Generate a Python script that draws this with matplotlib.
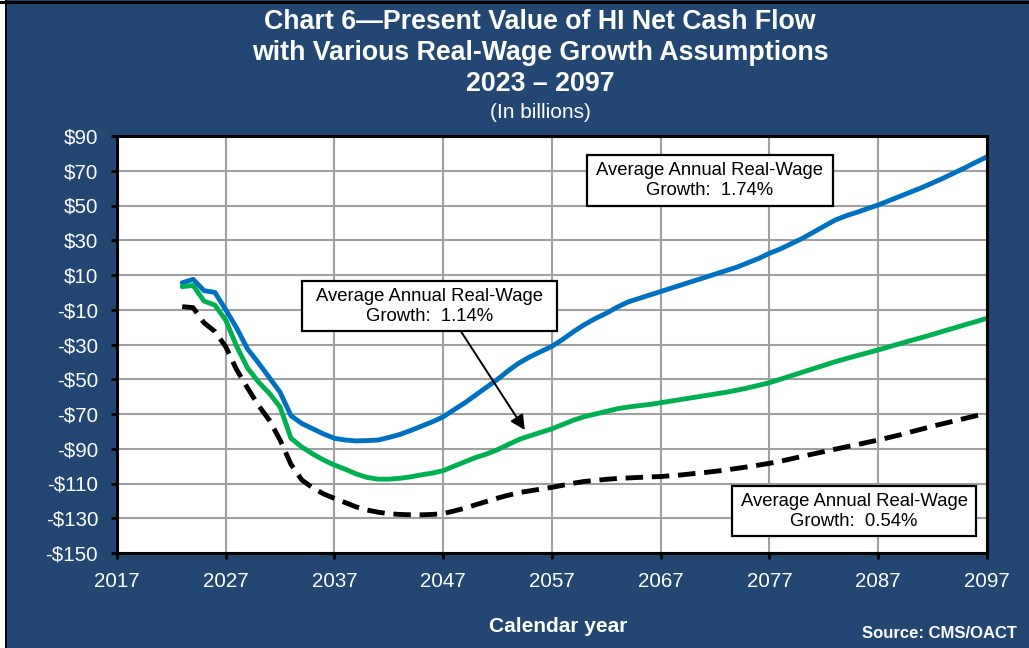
import matplotlib
matplotlib.use("Agg")
import matplotlib.pyplot as plt
from matplotlib.patches import Rectangle

plt.rcParams['font.family'] = ['Liberation Sans', 'DejaVu Sans']

# Calendar years of the projection
years = list(range(2023, 2098))

# Present value of HI net cash flow (billions), average real-wage growth 1.74%
high_wage = [5.5, 7.5, 1, 0, -10, -20.5, -32.5, -40.5, -49, -57.5,
             -71, -75.5, -78.5, -81.5, -84, -85, -85.5, -85.3, -85, -83.5,
             -81.8, -79.5, -77, -74.5, -71.6, -67.5, -63.5, -59, -54.5, -50,
             -45, -40.5, -37, -34, -31, -27, -22.5, -18.5, -15, -12,
             -8.5, -5.5, -3.5, -1.5, 0.5, 2.5, 4.5, 6.5, 8.5, 10.5,
             12.5, 14.5, 17, 19.5, 22.5, 25, 28, 31, 34.5, 38,
             41.5, 44, 46, 48.2, 50.3, 52.8, 55.3, 57.8, 60.3, 63,
             65.8, 68.8, 71.8, 75, 78]

# Average real-wage growth 1.14%
mid_wage = [3.3, 4, -5, -7.3, -16, -31, -43.5, -51.5, -58, -66,
            -84, -89, -93, -96.5, -99.4, -101.8, -104.5, -106.5, -107.5, -107.5,
            -107, -106.2, -105, -104, -102.6, -100, -97.5, -95, -93, -90.5,
            -87.5, -84.6, -82.5, -80.5, -78.5, -76, -73.5, -71.5, -70, -68.5,
            -67, -66, -65.2, -64.5, -63.5, -62.5, -61.5, -60.5, -59.5, -58.5,
            -57.5, -56.3, -55, -53.5, -52, -50, -48, -46, -44, -42,
            -40, -38.2, -36.5, -34.8, -33.1, -31.3, -29.5, -27.7, -26, -24.2,
            -22.3, -20.5, -18.6, -16.8, -14.9]

# Average real-wage growth 0.54%
low_wage = [-8.2, -8.8, -17.5, -22.5, -31.3, -44.5, -55, -65, -73.5, -85,
            -99, -108, -112.5, -116, -118.6, -121, -123.5, -125.3, -126.5, -127.4,
            -127.8, -128, -128, -127.8, -127.3, -125.8, -124.2, -122.2, -120.3, -118.4,
            -116.7, -115.2, -114.2, -113.2, -112.2, -111, -109.8, -108.8, -108.2, -107.6,
            -107.1, -106.8, -106.5, -106.2, -106, -105.5, -105, -104.3, -103.7, -103,
            -102.2, -101.3, -100.4, -99.4, -98.4, -97.2, -95.8, -94.4, -93, -91.7,
            -90.3, -89, -87.7, -86.3, -85, -83.5, -82, -80.3, -78.7, -77,
            -75.5, -74, -72.5, -71, -69.6]

x_ticks = list(range(2017, 2098, 10))
y_ticks = list(range(-150, 91, 20))
y_tick_labels = [f"${v}" if v >= 0 else f"-${-v}" for v in y_ticks]

box_labels = ["Average Annual Real-Wage\nGrowth:  1.74%",
              "Average Annual Real-Wage\nGrowth:  1.14%",
              "Average Annual Real-Wage\nGrowth:  0.54%"]

BG = "#214772"
W, H = 1029, 648

fig = plt.figure(figsize=(W / 100, H / 100), dpi=100, facecolor=BG)

# thin frame strips along the left and top edges
fig.patches.append(Rectangle((0, 0), 5 / W, 1, transform=fig.transFigure,
                             facecolor="white", edgecolor="none", zorder=0))
fig.patches.append(Rectangle((5 / W, 0), 2 / W, 1, transform=fig.transFigure,
                             facecolor="black", edgecolor="none", zorder=0))
fig.patches.append(Rectangle((0, 1 - 3.5 / H), 1, 2 / H, transform=fig.transFigure,
                             facecolor="black", edgecolor="none", zorder=0))

ax = fig.add_axes([117 / W, 1 - 553 / H, 870 / W, 417 / H])
ax.set_facecolor("white")

ax.plot(years, high_wage, color="#0070C0", lw=3.5, solid_joinstyle="round",
        solid_capstyle="round", zorder=3)
ax.plot(years, mid_wage, color="#00B050", lw=3.5, solid_joinstyle="round",
        solid_capstyle="round", zorder=3)
ax.plot(years, low_wage, color="black", lw=3.5, dashes=(3.6, 1.8), zorder=3)

ax.set_xlim(2017, 2097)
ax.set_ylim(-150, 90)
ax.set_xticks(x_ticks)
ax.set_yticks(y_ticks)
ax.set_yticklabels(y_tick_labels)
ax.grid(True, color="#A0A0A0", lw=1.5, zorder=1)
ax.set_axisbelow(True)

for s in ax.spines.values():
    s.set_color("black")
    s.set_linewidth(2.2)
    s.set_zorder(4)

ax.tick_params(axis="both", direction="out", length=4.5, width=2, color="black",
               labelcolor="white", labelsize=14.8, pad=9)

# Annotation boxes (axes fraction)
boxes = [(0.5402, 0.8333, 0.2828, 0.1211),
         (0.2126, 0.5312, 0.2931, 0.1211),
         (0.7069, 0.0396, 0.2805, 0.1211)]
for (x0, y0, w, h), lab in zip(boxes, box_labels):
    ax.add_patch(Rectangle((x0, y0), w, h, transform=ax.transAxes, facecolor="white",
                           edgecolor="black", lw=1.6, zorder=6, clip_on=False))
    ax.text(x0 + w / 2, y0 + h / 2, lab, transform=ax.transAxes, ha="center",
            va="center", multialignment="center", fontsize=13.3, color="black",
            linespacing=1.2, zorder=7)

# arrow from the 1.14% box down to its curve
ax.annotate("", xy=(2054.5, -79.2), xycoords="data",
            xytext=(0.3954, 0.5312), textcoords="axes fraction",
            arrowprops=dict(arrowstyle="-|>", color="black", lw=1.4,
                            mutation_scale=22, shrinkA=0, shrinkB=0),
            zorder=5)

# Titles
fig.text(540 / W, 1 - 22 / H, "Chart 6\u2014Present Value of HI Net Cash Flow",
         ha="center", va="center", color="white", fontsize=19.3, fontweight="bold")
fig.text(540 / W, 1 - 53 / H, "with Various Real-Wage Growth Assumptions",
         ha="center", va="center", color="white", fontsize=19.3, fontweight="bold")
fig.text(540 / W, 1 - 84 / H, "2023 \u2013 2097",
         ha="center", va="center", color="white", fontsize=19.3, fontweight="bold")
fig.text(540 / W, 1 - 112 / H, "(In billions)",
         ha="center", va="center", color="white", fontsize=15)

fig.text(558 / W, 1 - 626 / H, "Calendar year", ha="center", va="center",
         color="white", fontsize=15, fontweight="bold")
fig.text(1017 / W, 1 - 633 / H, "Source: CMS/OACT", ha="right", va="center",
         color="white", fontsize=12, fontweight="bold")

fig.savefig("out.png", dpi=100, facecolor=BG)
